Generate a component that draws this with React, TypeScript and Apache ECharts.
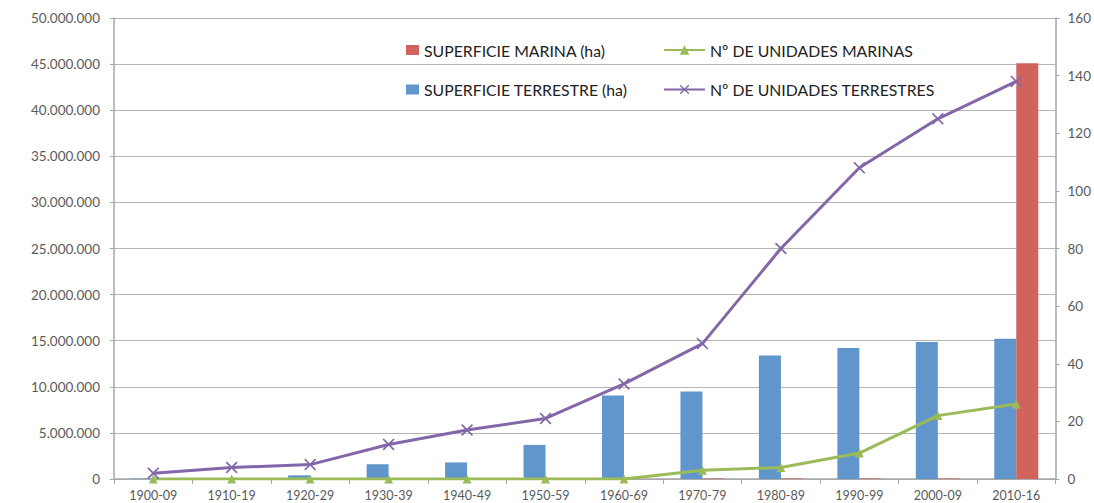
import React, { useEffect, useRef } from "react";
import * as echarts from "echarts";

const categories = ["1900-09", "1910-19", "1920-29", "1930-39", "1940-49", "1950-59", "1960-69", "1970-79", "1980-89", "1990-99", "2000-09", "2010-16"];
const superficieTerrestre = [60000, 20000, 400000, 1600000, 1800000, 3700000, 9050000, 9500000, 13400000, 14200000, 14850000, 15200000];
const superficieMarina = [0, 0, 0, 0, 0, 0, 0, 60000, 60000, 60000, 60000, 45100000];
const unidadesMarinas = [0, 0, 0, 0, 0, 0, 0, 3, 4, 9, 22, 26];
const unidadesTerrestres = [2, 4, 5, 12, 17, 21, 33, 47, 80, 108, 125, 138];

const FONT = "Lato";
const GREY = "#5a5a5a";
const AXIS = "#a6a6a6";
const X_SYMBOL = "path://M0,1L1,0L5,4L9,0L10,1L6,5L10,9L9,10L5,6L1,10L0,9L4,5Z";

const fmt = (v: number) => String(v).replace(/\B(?=(\d{3})+(?!\d))/g, ".");

const legendText = { fontFamily: FONT, fontSize: 15.8, color: "#222", lineHeight: 16 };

export default function App() {
  const ref = useRef<HTMLDivElement>(null);
  useEffect(() => {
    if (!ref.current) return;
    const chart = echarts.init(ref.current, null, { renderer: "svg" });
    chart.setOption({
      animation: false,
      textStyle: { fontFamily: FONT },
      grid: { left: 114, right: 33.5, top: 18, bottom: 24 },
      legend: [
        { left: 401, top: 37, itemWidth: 13, itemHeight: 10, icon: "rect", textStyle: legendText, data: ["SUPERFICIE MARINA (ha)"] },
        { left: 401, top: 76.5, itemWidth: 13, itemHeight: 10, icon: "rect", textStyle: legendText, data: ["SUPERFICIE TERRESTRE (ha)"] },
        { left: 658, top: 37, itemWidth: 41, itemHeight: 12, textStyle: legendText, data: ["Nº DE UNIDADES MARINAS"] },
        { left: 658, top: 76.5, itemWidth: 41, itemHeight: 12, textStyle: legendText, data: ["Nº DE UNIDADES TERRESTRES"] },
      ],
      xAxis: {
        type: "category",
        data: categories,
        axisLine: { lineStyle: { color: AXIS, width: 1.5 } },
        axisTick: { show: true, length: 5, lineStyle: { color: AXIS } },
        axisLabel: { color: GREY, fontSize: 12.5, margin: 10, fontFamily: FONT },
      },
      yAxis: [
        {
          type: "value", min: 0, max: 50000000, interval: 5000000,
          axisLine: { show: true, lineStyle: { color: AXIS, width: 1.5 } },
          axisTick: { show: true, length: 4, lineStyle: { color: AXIS } },
          splitLine: { lineStyle: { color: "#b5b5b5", width: 1.2 } },
          axisLabel: { color: GREY, fontSize: 13.5, margin: 14, fontFamily: FONT, formatter: (v: number) => fmt(v) },
        },
        {
          type: "value", min: 0, max: 160, interval: 20, position: "right",
          axisLine: { show: true, lineStyle: { color: AXIS, width: 1.5 } },
          axisTick: { show: true, length: 4, lineStyle: { color: AXIS } },
          splitLine: { show: false },
          axisLabel: { color: GREY, fontSize: 13.5, margin: 12, fontFamily: FONT },
        },
      ],
      series: [
        {
          name: "SUPERFICIE TERRESTRE (ha)", type: "bar", data: superficieTerrestre,
          barWidth: 22, barGap: "0%", itemStyle: { color: "#6196cc" }, z: 2,
        },
        {
          name: "SUPERFICIE MARINA (ha)", type: "bar", data: superficieMarina,
          barWidth: 22, barGap: "0%", itemStyle: { color: "#d0645d" }, z: 2,
        },
        {
          name: "Nº DE UNIDADES MARINAS", type: "line", yAxisIndex: 1, data: unidadesMarinas,
          symbol: "triangle", symbolSize: 9, lineStyle: { color: "#9bbb59", width: 3 },
          itemStyle: { color: "#9bbb59" }, z: 4,
        },
        {
          name: "Nº DE UNIDADES TERRESTRES", type: "line", yAxisIndex: 1, data: unidadesTerrestres,
          symbol: X_SYMBOL, symbolSize: 12, lineStyle: { color: "#8467a8", width: 3 },
          itemStyle: { color: "#8467a8" }, z: 5,
        },
      ],
    });
    return () => chart.dispose();
  }, []);
  return <div ref={ref} style={{ position: "absolute", left: 0, top: 0, width: 1094, height: 503 }} />;
}
